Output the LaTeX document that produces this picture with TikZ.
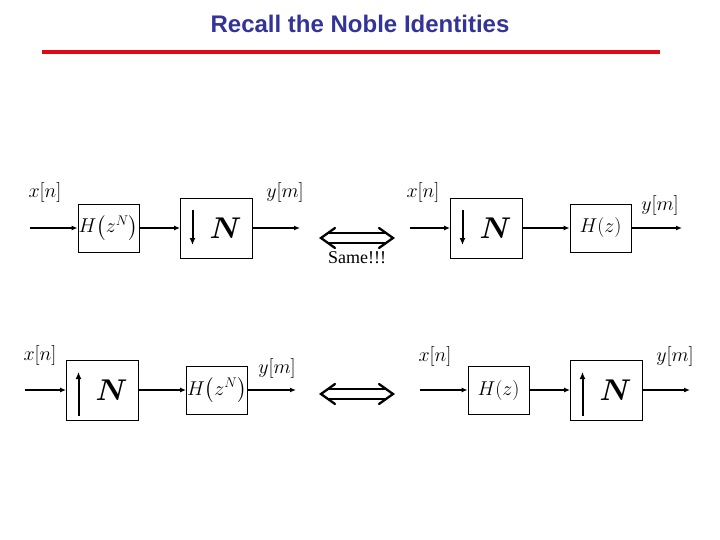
\RequirePackage{fix-cm}
\documentclass[tikz,border=0pt]{standalone}
\usepackage{amsmath}
\usepackage{exscale}
\usepackage{fontspec}
\setmainfont{Liberation Serif}
\newfontfamily\titlefont{Liberation Sans}
\usetikzlibrary{arrows.meta}
\definecolor{titleblue}{RGB}{51,51,153}
\definecolor{rulered}{RGB}{225,10,20}
\begin{document}
\begin{tikzpicture}[x=1pt,y=-1pt,
  blk/.style={draw,line width=0.9pt,inner sep=0pt,minimum width=#1},
  bigbox/.style={blk=72pt,minimum height=60pt},
  hbox/.style={blk=61pt,minimum height=48pt},
  conn/.style={line width=1.8pt,-{Latex[length=6pt,width=5pt]}},
  inarr/.style={line width=2pt,-{Latex[length=7pt,width=6pt]}},
  lbl/.style={inner sep=0pt,font=\fontsize{20}{24}\selectfont},
  bigN/.style={inner sep=0pt,font=\fontsize{30}{34}\selectfont\boldmath},
  htxt/.style={inner sep=0pt,font=\fontsize{20}{24}\selectfont},
  dbl/.style={line width=2.3pt,line cap=round,line join=miter}]
\useasboundingbox (0,0) rectangle (720,540);
% title
\node[text=titleblue,font=\titlefont\bfseries\fontsize{24}{28}\selectfont] (title) at (360,24) {Recall the Noble Identities};
\draw[rulered,line width=4pt] (42,52) -- (660,52);

% ---- top left
\coordinate (in1) at (30,228);
\node[hbox] (H1) at (108.5,228) {};
\node[htxt] (H1t) at (H1.center) {$H\!\left(\rule{0pt}{16pt}z^{N}\right)$};
\node[bigbox] (D1) at (216.5,228) {};
\node[bigN] (D1n) at ([xshift=9pt]D1.center) {$N$};
\coordinate (out1) at (300,228);
\draw[conn] (in1) -- (H1);
\draw[conn] (H1) -- (D1);
\draw[conn] (D1) -- (out1);
\draw[inarr] ([xshift=-24pt,yshift=18pt]D1.center) -- ([xshift=-24pt,yshift=-17pt]D1.center);
\node[lbl] (x1) at (45,193) {$x[n]$};
\node[lbl] (y1) at (285,193) {$y[m]$};

% ---- top right
\coordinate (in2) at (410,228);
\node[bigbox] (D2) at (486.5,228) {};
\node[bigN] (D2n) at ([xshift=9pt]D2.center) {$N$};
\node[hbox] (H2) at (600.5,228) {};
\node[htxt] (H2t) at (H2.center) {$H(z)$};
\coordinate (out2) at (682,228);
\draw[conn] (in2) -- (D2);
\draw[conn] (D2) -- (H2);
\draw[conn] (H2) -- (out2);
\draw[inarr] ([xshift=-24pt,yshift=18pt]D2.center) -- ([xshift=-24pt,yshift=-17pt]D2.center);
\node[lbl] (x2) at (423,193) {$x[n]$};
\node[lbl] (y2) at (660,206) {$y[m]$};

% double arrow + Same
\draw[dbl] (335,228) -- (321,238) -- (335,248);
\draw[dbl] (379,228) -- (393,238) -- (379,248);
\draw[dbl] (328,233) -- (386,233);
\draw[dbl] (328,243) -- (386,243);
\node[inner sep=0pt,font=\fontsize{18}{20}\selectfont] (same) at (357,258) {Same!!!};

% ---- bottom left
\coordinate (in3) at (25,390);
\node[bigbox] (U1) at (102.5,390) {};
\node[bigN] (U1n) at ([xshift=9pt]U1.center) {$N$};
\node[hbox] (H3) at (217,390) {};
\node[htxt] (H3t) at (H3.center) {$H\!\left(\rule{0pt}{16pt}z^{N}\right)$};
\coordinate (out3) at (296,390);
\draw[conn] (in3) -- (U1);
\draw[conn] (U1) -- (H3);
\draw[conn] (H3) -- (out3);
\draw[inarr] ([xshift=-24pt,yshift=-26pt]U1.center) -- ([xshift=-24pt,yshift=18pt]U1.center);
\node[lbl] (x3) at (40,355) {$x[n]$};
\node[lbl] (y3) at (277,368) {$y[m]$};

% ---- bottom right
\coordinate (in4) at (420,390);
\node[hbox] (H4) at (498.5,390) {};
\node[htxt] (H4t) at (H4.center) {$H(z)$};
\node[bigbox] (U2) at (606.5,390) {};
\node[bigN] (U2n) at ([xshift=9pt]U2.center) {$N$};
\coordinate (out4) at (690,390);
\draw[conn] (in4) -- (H4);
\draw[conn] (H4) -- (U2);
\draw[conn] (U2) -- (out4);
\draw[inarr] ([xshift=-24pt,yshift=-26pt]U2.center) -- ([xshift=-24pt,yshift=18pt]U2.center);
\node[lbl] (x4) at (435,356) {$x[n]$};
\node[lbl] (y4) at (675,356) {$y[m]$};

% double arrow
\draw[dbl] (335,384) -- (321,394) -- (335,404);
\draw[dbl] (379,384) -- (393,394) -- (379,404);
\draw[dbl] (328,389) -- (386,389);
\draw[dbl] (328,399) -- (386,399);
\end{tikzpicture}
\end{document}
